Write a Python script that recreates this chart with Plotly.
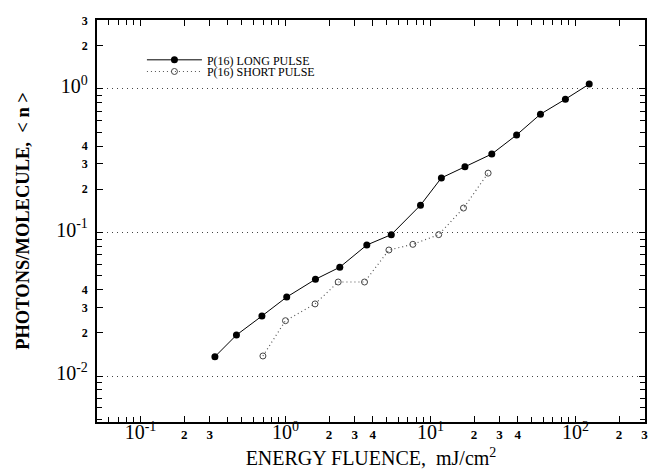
import plotly.graph_objects as go

# Long pulse data
long_x = [0.326, 0.459, 0.688, 1.02, 1.61, 2.37, 3.64, 5.37, 8.54, 11.9, 17.3, 26.5, 39.3, 57.4, 85.3, 124.5]
long_y = [0.01364, 0.0193, 0.0262, 0.0355, 0.0472, 0.0573, 0.0818, 0.0966, 0.155, 0.240, 0.287, 0.352, 0.478, 0.667, 0.848, 1.08]

# Short pulse data
short_x = [0.699, 1.00, 1.60, 2.31, 3.51, 5.17, 7.56, 11.4, 16.9, 25.0]
short_y = [0.0138, 0.0243, 0.0318, 0.0452, 0.0452, 0.0755, 0.0827, 0.0966, 0.148, 0.259]

long_name = "P(16) LONG PULSE"
short_name = "P(16) SHORT PULSE"
x_title = "ENERGY FLUENCE,  mJ/cm<sup>2</sup>"
y_title = "<b>PHOTONS/MOLECULE,  &lt; n &gt;</b>"

x_labels = {0.1: "10<sup>-1</sup>", 0.2: "2", 0.3: "3", 1: "10<sup>0</sup>", 2: "2", 3: "3", 4: "4",
            10: "10<sup>1</sup>", 20: "2", 30: "3", 40: "4", 100: "10<sup>2</sup>", 200: "2", 300: "3"}
y_labels = {0.01: "10<sup>-2</sup>", 0.02: "2", 0.03: "3", 0.04: "4", 0.1: "10<sup>-1</sup>",
            0.2: "2", 0.3: "3", 0.4: "4", 1: "10<sup>0</sup>", 2: "2", 3: "3"}
decades = [0.01, 0.1, 1]

SERIF = "Liberation Serif, Times New Roman, serif"


def fmt(lab):
    if "sup" in lab:
        return "<span style='font-size:20px'>" + lab + "</span>"
    return "<b>" + lab + "</b>"


def minor_vals(lo_exp, hi_exp, lo, hi):
    vals = []
    for e in range(lo_exp, hi_exp + 1):
        for m in range(1, 10):
            v = round(m * 10 ** e, 6)
            if lo <= v <= hi:
                vals.append(v)
    return vals


xv = list(x_labels.keys())
xt = [fmt(x_labels[v]) for v in xv]
yv = list(y_labels.keys())
yt = [fmt(y_labels[v]) for v in yv]
x_minor = minor_vals(-2, 2, 0.05, 300)
y_minor = minor_vals(-3, 0, 0.0048, 3)

fig = go.Figure()
fig.add_trace(go.Scatter(x=long_x, y=long_y, mode="lines+markers", name=long_name,
                         line=dict(color="black", width=1),
                         marker=dict(symbol="circle", size=7, color="black"),
                         legend="legend"))
fig.add_trace(go.Scatter(x=short_x, y=short_y, mode="lines+markers", name=short_name,
                         line=dict(color="#555", width=1.2, dash="1px,3px"),
                         marker=dict(symbol="circle-open", size=6, color="#444", line=dict(width=1)),
                         legend="legend2"))
# grid reference axis
fig.add_trace(go.Scatter(x=[1], y=[1], yaxis="y2", mode="markers", marker=dict(opacity=0),
                         showlegend=False, hoverinfo="skip"))

leg_common = dict(xanchor="left", yanchor="top",
                  font=dict(family=SERIF, size=12, color="black"), bgcolor="rgba(0,0,0,0)",
                  itemwidth=55)

fig.update_layout(
    width=650, height=475,
    margin=dict(l=97, r=5, t=20, b=53),
    paper_bgcolor="white", plot_bgcolor="white",
    font=dict(family=SERIF, color="black"),
    showlegend=True,
    legend=dict(x=0.082, y=0.937, **leg_common),
    legend2=dict(x=0.082, y=0.908, **leg_common),
    xaxis=dict(type="log", range=[-1.30, 2.48], tickvals=xv, ticktext=xt,
               ticks="inside", ticklen=6, tickcolor="black", showgrid=False,
               minor=dict(tickvals=x_minor, ticks="inside", ticklen=5, tickcolor="black", showgrid=False),
               showline=True, linecolor="black", linewidth=1.5, mirror="ticks",
               tickfont=dict(family=SERIF, size=13, color="black"),
               title=dict(text=x_title, font=dict(family=SERIF, size=20, color="black"), standoff=9),
               zeroline=False, automargin=False),
    yaxis=dict(type="log", range=[-2.32, 0.48], tickvals=yv, ticktext=yt,
               ticks="inside", ticklen=6, tickcolor="black", showgrid=False,
               minor=dict(tickvals=y_minor, ticks="inside", ticklen=5, tickcolor="black", showgrid=False),
               showline=True, linecolor="black", linewidth=1.5, mirror="ticks",
               tickfont=dict(family=SERIF, size=12, color="black"), ticklabelstandoff=5,
               title=dict(text=y_title, font=dict(family=SERIF, size=18.5, color="black"), standoff=22),
               zeroline=False, automargin=False),
    yaxis2=dict(type="log", range=[-2.32, 0.48], overlaying="y", tickvals=decades,
                showticklabels=False, ticks="", showgrid=True, gridcolor="#444",
                griddash="1px,4px", gridwidth=1, showline=False, zeroline=False),
)

fig.write_html("out.html")
